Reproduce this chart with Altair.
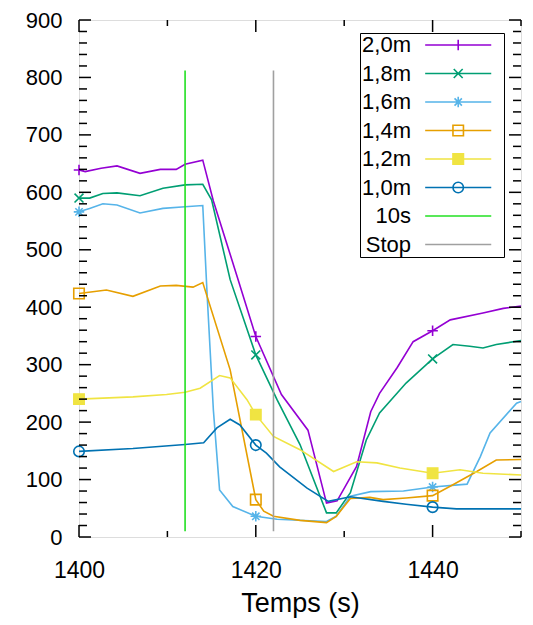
import altair as alt
import pandas as pd

# ---------------- data ----------------
series_names = ["2,0m", "1,8m", "1,6m", "1,4m", "1,2m", "1,0m"]
rule_names = ["10s", "Stop"]
all_names = series_names + rule_names
colors = ["#9400d3", "#009e73", "#56b4e9", "#e69f00", "#f0e442", "#0072b2", "#22e022", "#a0a0a0"]
fills = ["transparent", "transparent", "transparent", "transparent", "#f0e442", "transparent",
         "transparent", "transparent"]

t_20 = [1400, 1400.7, 1402.5, 1404.3, 1406.9, 1409.2, 1411, 1412, 1414, 1415.2, 1418, 1420,
        1422.9, 1425.9, 1428, 1429.2, 1431.4, 1433, 1434, 1436, 1437.8, 1440, 1442, 1445.7, 1448, 1450]
v_20 = [639, 636, 642, 646, 633, 640, 640, 649, 656, 585, 448, 349,
        248, 186, 59, 63, 123, 218, 250, 295, 340, 359, 378, 390, 398, 402]

t_18 = [1400, 1401.2, 1402.7, 1404.3, 1406.9, 1409.5, 1412, 1414, 1415, 1417.1, 1420, 1422.4,
        1425, 1428, 1429.1, 1430.7, 1432.5, 1434, 1437, 1440, 1442.3, 1444.2, 1445.7, 1447.2, 1450]
v_18 = [590, 590, 598, 599, 594, 607, 613, 614, 587, 448, 317, 239,
        161, 42, 42, 77, 169, 216, 268, 310, 335, 332, 329, 335, 342]

t_16 = [1400, 1401.2, 1402.7, 1404.3, 1406.9, 1409.5, 1412, 1414, 1414.5, 1415.2, 1415.9, 1417.4,
        1420, 1422.4, 1428, 1429.1, 1430.7, 1433, 1436.7, 1440, 1443.9, 1445.4, 1446.5, 1449.5, 1450]
v_16 = [566, 572, 580, 578, 564, 572, 575, 577, 420, 221, 82, 53,
        36, 31, 27, 36, 71, 79, 80, 87, 92, 140, 181, 233, 236]

t_14 = [1400, 1403.1, 1406.1, 1409.2, 1411, 1412.9, 1414, 1417.1, 1420, 1420.9, 1422, 1425,
        1428, 1429.1, 1430.7, 1432.9, 1434.4, 1437, 1440, 1442.3, 1445, 1447.2, 1450]
v_14 = [424, 430, 419, 437, 438, 435, 443, 291, 65, 45, 36, 29,
        25, 36, 67, 69, 65, 68, 72, 91, 114, 134, 135]

t_12 = [1400, 1406.1, 1409.9, 1412, 1413.7, 1415.9, 1417.1, 1419, 1420, 1422, 1425, 1428.8,
        1431.4, 1433.7, 1436.3, 1440, 1443.1, 1445.7, 1450]
v_12 = [240, 244, 248, 252, 259, 281, 277, 239, 213, 175, 152, 114,
        131, 129, 120, 111, 117, 111, 108]

t_10 = [1400, 1406.1, 1412, 1414.1, 1415.6, 1417.1, 1418.2, 1420, 1421.2, 1422.7, 1425.8, 1428.2,
        1430.7, 1434.4, 1437, 1440, 1442.7, 1450]
v_10 = [149, 154, 161, 164, 190, 205, 195, 160, 146, 122, 85, 62,
        70, 62, 57, 52, 49, 49]

marker_times = [1400, 1420, 1440]

rule_times = [1412, 1422]
rule_low = [10, 10]
rule_high = [812, 812]

y_major = list(range(0, 901, 100))
y_minor = [v for v in range(0, 901, 20) if v % 100]
x_major = [1400, 1420, 1440]
x_minor = [1410, 1430, 1450]

# ---------------- tables ----------------
series_t = [t_20, t_18, t_16, t_14, t_12, t_10]
series_v = [v_20, v_18, v_16, v_14, v_12, v_10]
rows = []
for name, ts, vs in zip(series_names, series_t, series_v):
    for t, v in zip(ts, vs):
        rows.append({"serie": name, "t": t, "v": v})
lines_df = pd.DataFrame(rows)
markers_df = lines_df[lines_df["t"].isin(marker_times)].reset_index(drop=True)
rules_df = pd.DataFrame({"serie": rule_names, "t": rule_times, "lo": rule_low, "hi": rule_high})

# ---------------- marker shapes (unit symbol paths) ----------------
def path(cmds, dx=0.0):
    out = []
    for c in cmds:
        if c[0] in "ML":
            out.append(f"{c[0]}{c[1] + dx:.3f},{c[2]:.3f}")
        elif c[0] == "A":
            out.append(f"A{c[1]},{c[2]},{c[3]},{c[4]},{c[5]},{c[6] + dx:.3f},{c[7]:.3f}")
        else:
            out.append("Z")
    return "".join(out)

PLUS = [("M", -1, 0), ("L", 1, 0), ("M", 0, -1), ("L", 0, 1)]
CROSS = [("M", -0.85, -0.85), ("L", 0.85, 0.85), ("M", -0.85, 0.85), ("L", 0.85, -0.85)]
STAR = PLUS + [("M", -0.7, -0.7), ("L", 0.7, 0.7), ("M", -0.7, 0.7), ("L", 0.7, -0.7)]
SQUARE = [("M", -1, -1), ("L", 1, -1), ("L", 1, 1), ("L", -1, 1), ("Z",)]
CIRCLE = [("M", 1, 0), ("A", 1, 1, 0, 1, 1, -1, 0), ("A", 1, 1, 0, 1, 1, 1, 0), ("Z",)]
marker_cmds = [PLUS, CROSS, STAR, SQUARE, SQUARE, CIRCLE]
plot_shapes = [path(c) for c in marker_cmds]
plot_shapes[5] = "circle"

# legend sample: line + marker drawn to the right of the symbol anchor
LEG_DX = 11.1
LINE = [("M", -6.3, 0), ("L", 6.3, 0)]
EXT = [("M", 7.9, 0)]
legend_shapes = [path(LINE + c + EXT, LEG_DX) for c in marker_cmds] + [path(LINE + EXT, LEG_DX)] * 2

# ---------------- styling ----------------
W, H = 442, 517
FONT = "Liberation Sans"

legend = alt.Legend(
    title=None,
    orient="none",
    legendX=281,
    legendY=13,
    padding=1,
    strokeColor="black",
    fillColor="white",
    labelFont=FONT,
    labelFontSize=22,
    labelColor="black",
    labelAlign="right",
    labelOffset=0,
    symbolOffset=28,
    symbolSize=110,
    symbolStrokeWidth=1.6,
    rowPadding=6.5,
)

xscale = alt.Scale(domain=[1400, 1450], nice=False, zero=False)
yscale = alt.Scale(domain=[0, 900], nice=False, zero=False)
stroke = alt.Stroke("serie:N", scale=alt.Scale(domain=all_names, range=colors), legend=legend)
fill = alt.Fill("serie:N", scale=alt.Scale(domain=all_names, range=fills), legend=legend)
shape = alt.Shape("serie:N", scale=alt.Scale(domain=all_names, range=legend_shapes), legend=legend)

x_axis = alt.Axis(values=x_major, format="d", title="Temps (s)", grid=False, ticks=False, tickSize=0,
                  domain=False, labelFont=FONT, labelFontSize=23, labelColor="black",
                  labelPadding=22, titleFont=FONT, titleFontSize=27, titleFontWeight="normal",
                  titleColor="black", titlePadding=8, labelFlush=False, zindex=1)
y_axis = alt.Axis(values=y_major, format="d", title=None, grid=False, ticks=False, tickSize=0,
                  domain=False, labelFont=FONT, labelFontSize=22, labelColor="black",
                  labelPadding=17, labelFlush=False, zindex=1)

X = alt.X("t:Q", scale=xscale, axis=x_axis)
Y = alt.Y("v:Q", scale=yscale, axis=y_axis)

# legend carrier (draws no marks itself)
legend_layer = alt.Chart(markers_df).mark_point(
    filled=True, size=110, strokeWidth=1.6, opacity=1
).encode(x=X, y=Y, stroke=stroke, fill=fill, shape=shape).transform_filter("false")

lines = alt.Chart(lines_df).mark_line(strokeWidth=1.6).encode(
    x=X, y=Y, stroke=stroke, detail="serie:N",
)

marker_layers = []
for name, shp in zip(series_names, plot_shapes):
    sub = markers_df[markers_df["serie"] == name]
    if name == "1,2m":
        mk = alt.Chart(sub).mark_point(filled=True, shape=shp, size=115, strokeWidth=1.2, opacity=1)
        marker_layers.append(mk.encode(x=X, y=Y, stroke=stroke, fill=fill))
    else:
        mk = alt.Chart(sub).mark_point(filled=False, shape=shp, size=110, strokeWidth=1.6, opacity=1)
        marker_layers.append(mk.encode(x=X, y=Y, stroke=stroke))

rules = alt.Chart(rules_df).mark_rule(strokeWidth=1.6).encode(
    x=X,
    y=alt.Y("lo:Q", scale=yscale, axis=y_axis),
    y2="hi:Q",
    stroke=stroke,
)

def yticks(vals, length, right=False):
    x0, x1 = (W - length, W) if right else (0, length)
    return alt.Chart(pd.DataFrame({"v": vals})).mark_rule(color="black", strokeWidth=1.5).encode(
        y=Y, x=alt.value(x0), x2=alt.value(x1))

def xticks(vals, length, top=False):
    y0, y1 = (0, length) if top else (H - length, H)
    return alt.Chart(pd.DataFrame({"t": vals})).mark_rule(color="black", strokeWidth=1.5).encode(
        x=X, y=alt.value(y0), y2=alt.value(y1))

ticks = [
    yticks(y_major, 12), yticks(y_minor, 8), yticks(y_major, 12, True), yticks(y_minor, 8, True),
    xticks(x_major, 12), xticks(x_minor, 6), xticks(x_major, 12, True), xticks(x_minor, 6, True),
]

chart = alt.layer(legend_layer, lines, *marker_layers, rules, *ticks).properties(
    width=W, height=H,
    autosize=alt.AutoSizeParams(type="none"),
    padding={"left": 79, "top": 20, "right": 12, "bottom": 88},
).configure_view(stroke="black", strokeWidth=1.5).configure(background="white")

chart.save("out.html", embed_options={"renderer": "svg", "actions": False})
